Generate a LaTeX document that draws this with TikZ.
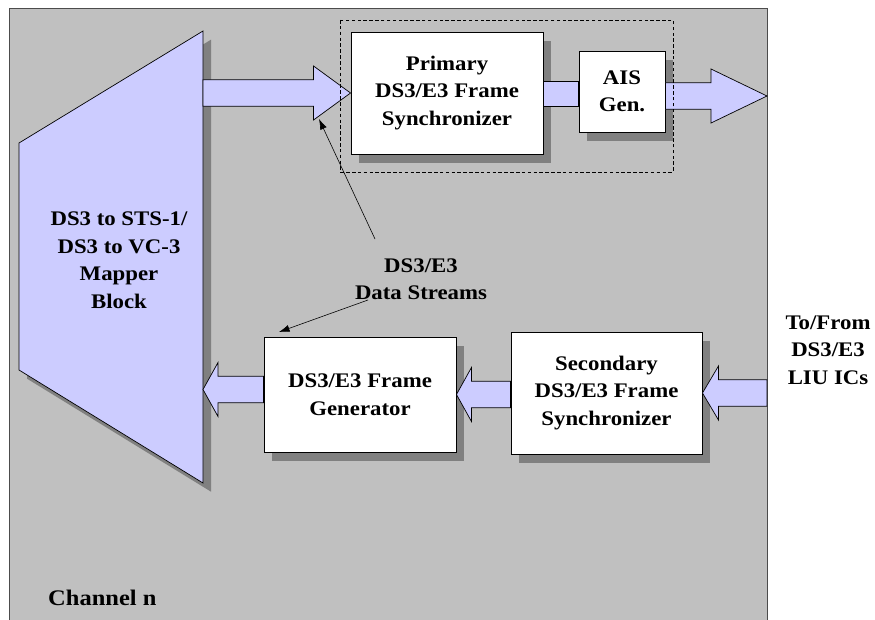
\documentclass[tikz,border=0pt]{standalone}
\usepackage{fontspec}
\setmainfont{Liberation Serif}[FakeStretch=1.1]
\usepackage{tikz}
\usetikzlibrary{
    calc,
    arrows.meta,
    shadows
}
\definecolor{framegray}{HTML}{C0C0C0}
\definecolor{shadegray}{HTML}{808080}
\definecolor{lilac}{HTML}{CCCCFF}
\tikzset{
    fatarrow/.style={draw=black, fill=lilac, line width=0.6pt},
    shade/.style={drop shadow={shadow xshift=0.24cm, shadow yshift=-0.26cm, fill=shadegray, opacity=1}}
}
% wide arrow, #1 head length (px), #2 start, #3 tip
\newcommand{\fatarrow}[3][15]{%
    \filldraw[fatarrow] let \p1=(#2), \p2=(#3), \n1={sign(\x2-\x1)*#1*0.03cm} in
        (\x1,\y2+0.4cm) -- (\x2-\n1,\y2+0.4cm) -- (\x2-\n1,\y2+0.81cm) -- (\x2,\y2)
        -- (\x2-\n1,\y2-0.81cm) -- (\x2-\n1,\y2-0.4cm) -- (\x1,\y2-0.4cm) -- cycle;}

\begin{document}
\begin{tikzpicture}[x=0.03cm,y=-0.03cm,>={Latex[length=9pt,width=6pt]},font=\fontsize{17.7}{23.5}\selectfont\bfseries]
    \tikzstyle{box}=[draw, fill=white, line width=0.8pt, align=center, shade]
    \useasboundingbox (0,0) rectangle (875,619);
    \filldraw[fill=framegray, draw=black!70, line width=0.8pt] (9,8) rectangle (767,640);
    % mapper
    \filldraw[fill=lilac, line width=0.6pt, shade] (19,143) -- (203,31) -- (203,483) -- (19,370) -- cycle;
    \coordinate (mTR) at (203,31);
    \coordinate (mBR) at (203,483);
    \node[align=center] (map) at (119,260) {DS3 to STS-1/\\DS3 to VC-3\\Mapper\\Block};
    \node[box, minimum width=5.76cm, minimum height=3.66cm] (prim) at (447,93) {Primary\\DS3/E3 Frame\\Synchronizer};
    \node[box, minimum width=2.58cm, minimum height=2.43cm] (ais) at (622,91.5) {AIS\\Gen.};
    \node[box, minimum width=5.76cm, minimum height=3.45cm] (gen) at (360,394.5) {DS3/E3 Frame\\Generator};
    \node[box, minimum width=5.73cm, minimum height=3.66cm] (sec) at (606.5,393) {Secondary\\DS3/E3 Frame\\Synchronizer};
    \coordinate (out) at (767,96);
    \coordinate (liu) at (767,397);
    \fatarrow[37]{mTR |- prim.west}{prim.west}
    \filldraw[fatarrow] ($(prim.east)+(0,-12)$) rectangle ($(ais.west)+(0,15)$);
    \fatarrow[56]{ais.east}{out}
    \fatarrow[16]{liu}{sec.east}
    \fatarrow[15]{sec.west}{gen.east}
    \fatarrow[15]{$(gen.west)+(0,-5)$}{$(mBR |- gen.west)+(0,-5)$}
    \draw[dash pattern=on 3pt off 2pt, line width=0.5pt] (340,20) rectangle (673,172);
    % labels
    \node[align=center] (ds) at (421,279) {DS3/E3\\Data Streams};
    \node[align=center] (liuic) at (828,350) {To/From\\DS3/E3\\LIU ICs};
    \node[anchor=west, inner sep=0pt, font=\fontsize{19}{23.5}\selectfont\bfseries] (chan) at (48,598) {Channel n};
    \coordinate (hd1) at (319,119);
    \coordinate (hd2) at (279,332);
    \draw[->, line width=0.5pt] ([shift={(-46,-40)}]ds.center) -- (hd1);
    \draw[->, line width=0.5pt] ([shift={(-53,21)}]ds.center) -- (hd2);
\end{tikzpicture}
\end{document}
